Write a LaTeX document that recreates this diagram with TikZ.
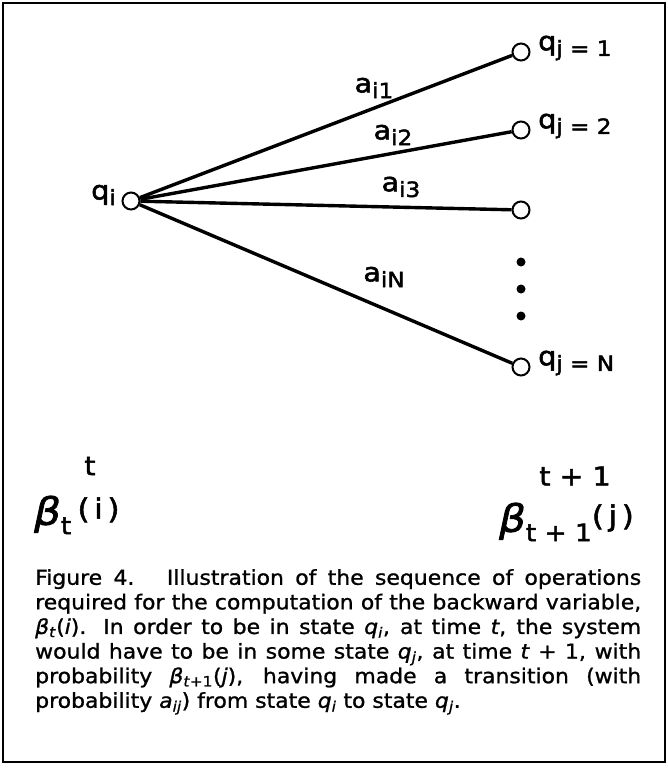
\documentclass[tikz,border=0pt]{standalone}
\usepackage{fontspec}
\setmainfont{DejaVu Sans}[FakeStretch=1.07,FakeBold=1.1]
\newfontfamily\labfont{DejaVu Sans}[FakeStretch=1.1,FakeBold=2]
\newcommand{\lsub}[1]{\raisebox{-0.4ex}{\fontsize{21}{21}\selectfont #1}}
\newcommand{\bsub}[1]{\raisebox{-0.45ex}{\fontsize{24}{24}\selectfont #1}}
\newcommand{\bsup}[1]{\raisebox{0.3ex}{\fontsize{28}{28}\selectfont #1}}
\begin{document}
\begin{tikzpicture}[x=1pt,y=-1pt,
  state/.style={circle,draw,line width=2pt,minimum size=17pt,inner sep=0pt,fill=white},
  dotnode/.style={circle,fill,minimum size=9pt,inner sep=0pt},
  edge/.style={line width=3.4pt},
  lab/.style={font=\labfont\fontsize{26}{26}\selectfont,inner sep=0pt},
  blab/.style={font=\labfont\fontsize{38}{38}\selectfont,inner sep=0pt},
  caption/.style={font=\fontsize{20.5}{24.6}\selectfont,text width=606pt,align=justify,inner sep=0pt,anchor=north west}]
\useasboundingbox (0,0) rectangle (668,773);
\draw[line width=2.4pt] (3,3) rectangle (665,762);
% states
\node[state] (qi) at (131,201) {};
\node[state] (j1) at (521,52) {};
\node[state] (j2) at (521,130) {};
\node[state] (j3) at (521,210) {};
\node[state] (jN) at (521,367) {};
\node[dotnode] (d1) at (521,262) {};
\node[dotnode] (d2) at (521,289) {};
\node[dotnode] (d3) at (521,316) {};
% edges
\draw[edge] (qi) -- (j1);
\draw[edge] (qi) -- (j2);
\draw[edge] (qi) -- (j3);
\draw[edge] (qi) -- (jN);
% labels
\node[lab,anchor=east] (lqi) at (116,195) {q\lsub{i}};
\node[lab,anchor=west] (l1) at (538,48) {q\lsub{j = 1}};
\node[lab,anchor=west] (l2) at (538,126) {q\lsub{j = 2}};
\node[lab,anchor=west] (lN) at (538,363) {q\lsub{j = N}};
\node[lab] (a1) at (374,88) {a\lsub{i1}};
\node[lab] (a2) at (393,135) {a\lsub{i2}};
\node[lab] (a3) at (401,187) {a\lsub{i3}};
\node[lab] (aN) at (384,277) {a\lsub{iN}};
\node[lab] (tl) at (90,466) {t};
\node[lab] (tl2) at (575,476) {t + 1};
\node[blab,anchor=west] (bt) at (34,515) {\textit{β}\bsub{t}\,\bsup{(\,i\,)}};
\node[blab,anchor=east] (bt1) at (634,522) {\textit{β}\bsub{t + 1}\bsup{(\,j\,)}};
% caption
\node[caption] (cap) at (35,569) {Figure 4.\hspace{0.5em} Illustration of the sequence of operations\linebreak
required for the computation of the backward variable,\linebreak
\textit{β}\textsubscript{\textit{t}}(\textit{i}). In order to be in state \textit{q}\textsubscript{\textit{i}}, at time \textit{t}, the system\linebreak
would have to be in some state \textit{q}\textsubscript{\textit{j}}, at time \textit{t} + 1, with\linebreak
probability \textit{β}\textsubscript{\textit{t}+1}(\textit{j}), having made a transition (with\linebreak
probability \textit{a}\textsubscript{\textit{ij}}) from state \textit{q}\textsubscript{\textit{i}} to state \textit{q}\textsubscript{\textit{j}}.};
\end{tikzpicture}
\end{document}
